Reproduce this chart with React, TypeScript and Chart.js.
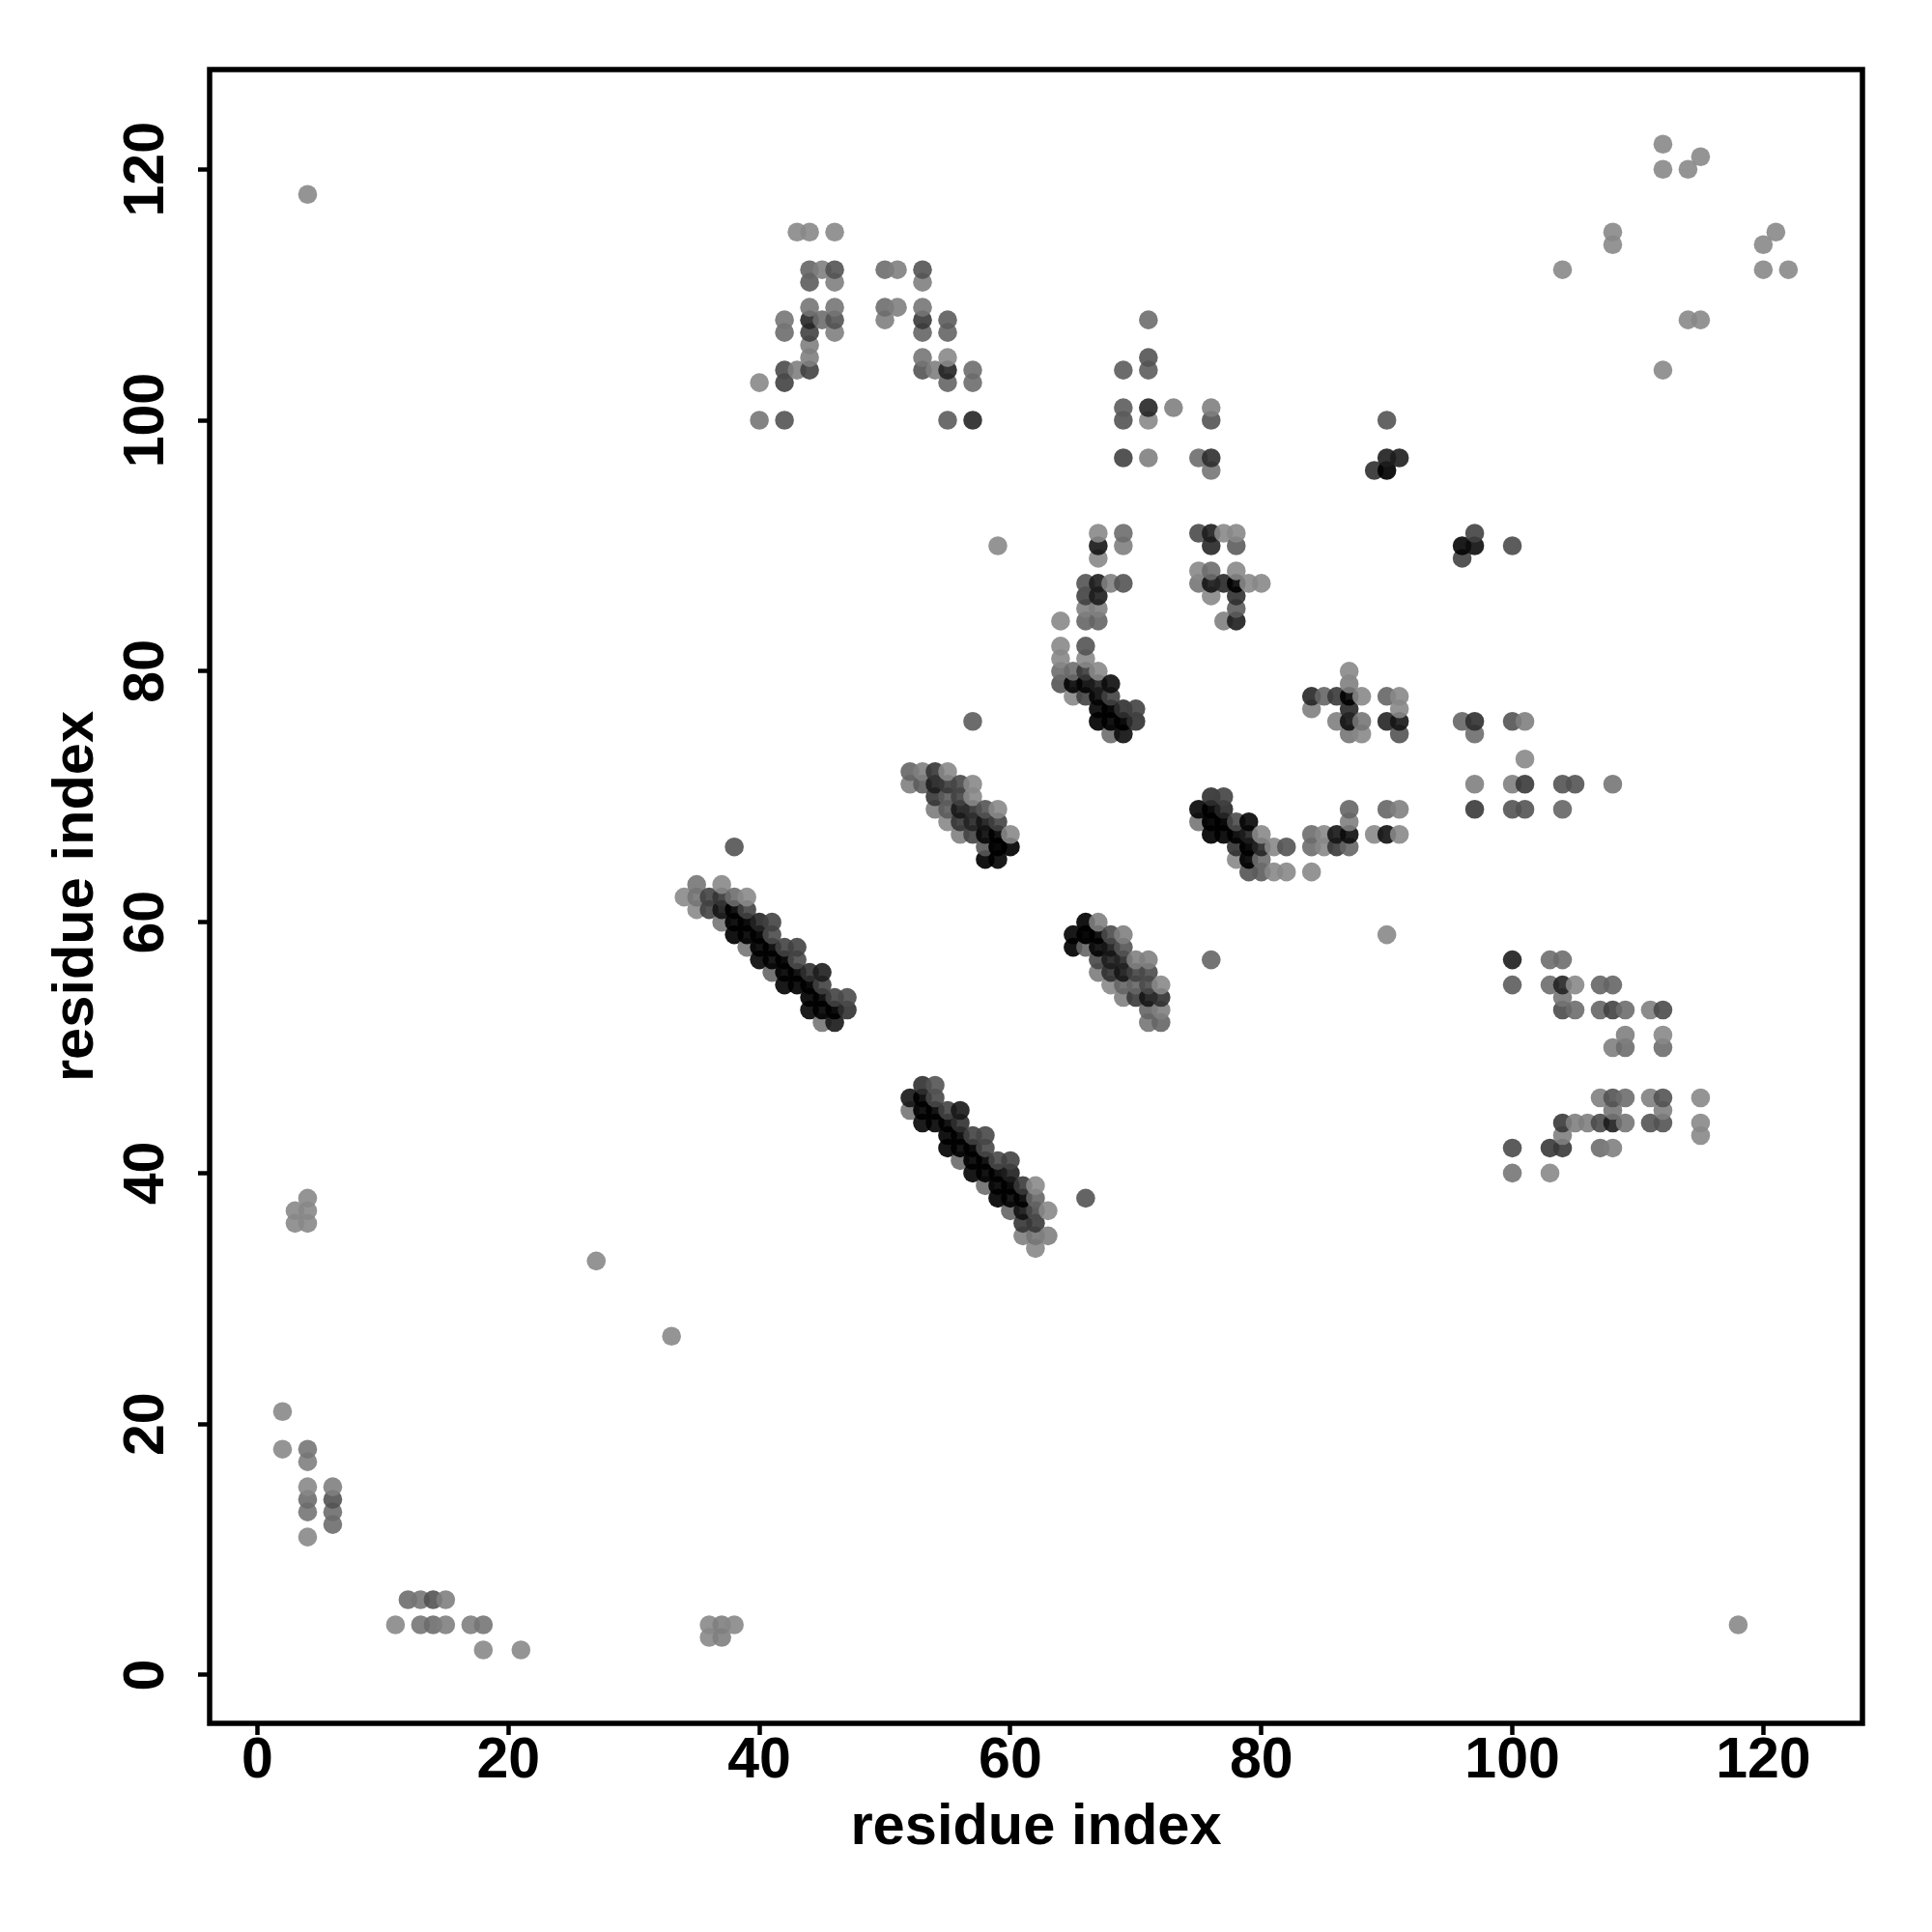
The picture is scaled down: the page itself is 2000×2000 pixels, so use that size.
import React, { useEffect, useRef } from "react";
import { Chart, registerables } from "chart.js";

Chart.register(...registerables);

type C = [number, number, number];

const tickValues = [0, 20, 40, 60, 80, 100, 120];
const axisTitle = "residue index";

// [residue i, residue j, grey level of a single dot]
const lowerLeft: C[] = [
  [2,21,0x90],[2,18,0x90],[3,37,0x90],[3,36,0x90],[4,118,0x90],[4,38,0x90],[4,37,0x90],[4,36,0x90],
  [4,18,0x80],[4,17,0x88],[4,15,0x90],[4,14,0x78],[4,13,0x80],[4,11,0x90],
  [6,15,0x88],[6,14,0x60],[6,13,0x78],[6,12,0x78],
  [11,4,0x90],[12,6,0x78],[13,6,0x80],[13,4,0x80],[14,6,0x60],[14,4,0x78],[15,6,0x88],[15,4,0x88],
  [17,4,0x88],[18,4,0x80],[18,2,0x90],[21,2,0x90],[27,33,0x90],[33,27,0x90],
  [36,4,0x90],[36,3,0x90],[37,4,0x88],[37,3,0x88],[38,4,0x90],[118,4,0x90],
];
const helixA: C[] = [
  [34,62,0x93],[35,63,0x80],[35,62,0x80],[35,61,0x93],[36,62,0x50],[36,61,0x50],
  [37,63,0x90],[37,62,0x45],[37,61,0x28],[37,60,0x80],
  [38,66,0x60],[38,62,0x78],[38,61,0x10],[38,60,0x10],[38,59,0x10],
  [39,62,0x93],[39,61,0x50],[39,60,0x08],[39,59,0x10],[39,58,0x80],
  [40,60,0x35],[40,59,0x08],[40,58,0x10],[40,57,0x18],
  [41,60,0x50],[41,59,0x58],[41,58,0x10],[41,57,0x15],[41,56,0x70],
  [42,58,0x50],[42,57,0x08],[42,56,0x10],[42,55,0x15],
  [43,58,0x50],[43,57,0x58],[43,56,0x10],[43,55,0x10],
  [44,56,0x40],[44,55,0x08],[44,54,0x10],[44,53,0x18],
  [45,56,0x30],[45,55,0x50],[45,54,0x10],[45,53,0x12],[45,52,0x80],
  [46,54,0x50],[46,53,0x08],[46,52,0x2a],[47,54,0x58],[47,53,0x40],
];
const helixB: C[] = [
  [52,46,0x28],[52,45,0x80],[53,47,0x40],[53,46,0x10],[53,45,0x10],[53,44,0x18],
  [54,47,0x60],[54,46,0x55],[54,45,0x10],[54,44,0x15],
  [55,45,0x50],[55,44,0x10],[55,43,0x10],[55,42,0x12],
  [56,45,0x2a],[56,44,0x40],[56,43,0x10],[56,42,0x12],[56,41,0x75],
  [57,43,0x50],[57,42,0x08],[57,41,0x10],[57,40,0x15],
  [58,43,0x55],[58,42,0x55],[58,41,0x10],[58,40,0x10],[58,39,0x78],
  [59,41,0x55],[59,40,0x10],[59,39,0x10],[59,38,0x10],
  [60,41,0x50],[60,40,0x30],[60,39,0x08],[60,38,0x15],[60,37,0x70],
  [61,39,0x48],[61,38,0x10],[61,37,0x25],[61,36,0x45],[61,35,0x88],
  [62,39,0x93],[62,38,0x70],[62,37,0x58],[62,36,0x48],[62,35,0x80],[62,34,0x90],
  [63,37,0x90],[63,35,0x88],[66,38,0x60],
];
const strandC: C[] = [
  [52,72,0x70],[52,71,0x88],[53,72,0x88],[53,71,0x68],
  [54,72,0x45],[54,71,0x30],[54,70,0x45],[54,69,0x85],
  [55,72,0x90],[55,71,0x48],[55,70,0x68],[55,69,0x68],[55,68,0x90],
  [56,71,0x55],[56,70,0x50],[56,69,0x2a],[56,68,0x45],[56,67,0x88],
  [57,76,0x68],[57,71,0x90],[57,70,0x90],[57,69,0x40],[57,68,0x35],[57,67,0x50],
  [58,69,0x60],[58,68,0x28],[58,67,0x1a],[58,66,0x65],[58,65,0x10],
  [59,90,0x90],[59,69,0x90],[59,68,0x50],[59,67,0x10],[59,66,0x05],[59,65,0x15],
  [60,67,0x90],[60,66,0x10],
];
const strandD: C[] = [
  [64,84,0x90],[64,82,0x90],[64,81,0x90],[64,80,0x78],[64,79,0x60],
  [65,80,0x78],[65,79,0x18],[65,78,0x90],
  [66,87,0x60],[66,86,0x50],[66,85,0x88],[66,84,0x70],[66,82,0x60],[66,81,0x90],[66,80,0x48],[66,79,0x18],[66,78,0x50],
  [67,91,0x90],[67,90,0x28],[67,89,0x90],[67,87,0x30],[67,86,0x30],[67,85,0x88],[67,84,0x70],
  [67,80,0x90],[67,79,0x30],[67,78,0x18],[67,77,0x15],[67,76,0x10],
  [68,87,0x88],[68,79,0x20],[68,78,0x50],[68,77,0x05],[68,76,0x10],[68,75,0x78],
  [69,91,0x78],[69,90,0x88],[69,87,0x60],[69,77,0x40],[69,76,0x08],[69,75,0x20],
  [70,77,0x50],[70,76,0x40],
];
const strandE: C[] = [
  [65,59,0x15],[65,58,0x10],[66,60,0x10],[66,59,0x05],[66,58,0x70],
  [67,60,0x88],[67,59,0x10],[67,58,0x18],[67,57,0x55],[67,56,0x85],
  [68,59,0x58],[68,58,0x28],[68,57,0x30],[68,56,0x40],[68,55,0x90],
  [69,59,0x88],[69,58,0x60],[69,57,0x35],[69,56,0x28],[69,55,0x70],[69,54,0x88],
  [70,57,0x88],[70,56,0x50],[70,55,0x70],[70,54,0x48],
  [71,57,0x88],[71,56,0x58],[71,55,0x58],[71,54,0x28],[71,53,0x70],[71,52,0x80],
  [72,55,0x90],[72,54,0x40],[72,53,0x88],[72,52,0x70],[76,57,0x70],
];
const clusterF: C[] = [
  [75,91,0x58],[75,88,0x90],[75,87,0x80],
  [76,91,0x30],[76,90,0x38],[76,88,0x78],[76,87,0x28],[76,86,0x90],
  [77,91,0x90],[77,87,0x38],[77,84,0x88],
  [78,91,0x90],[78,90,0x68],[78,88,0x90],[78,87,0x15],[78,86,0x40],[78,85,0x68],[78,84,0x30],
  [79,87,0x90],[80,87,0x90],[96,90,0x18],[96,89,0x50],[97,91,0x50],[97,90,0x20],[100,90,0x58],
];
const clusterG: C[] = [
  [84,78,0x38],[84,77,0x88],[85,78,0x70],[86,78,0x48],[86,76,0x88],
  [87,80,0x90],[87,79,0x88],[87,78,0x15],[87,77,0x38],[87,76,0x25],[87,75,0x80],
  [88,78,0x90],[88,76,0x80],[88,75,0x90],
  [90,78,0x70],[90,76,0x35],[91,78,0x90],[91,77,0x90],[91,76,0x28],[91,75,0x60],
];
const clusterH: C[] = [
  [75,69,0x18],[75,68,0x80],[76,70,0x40],[76,69,0x08],[76,68,0x08],[76,67,0x10],
  [77,70,0x50],[77,69,0x38],[77,68,0x05],[77,67,0x10],
  [78,68,0x58],[78,67,0x10],[78,66,0x40],[78,65,0x90],
  [79,68,0x18],[79,67,0x30],[79,66,0x08],[79,65,0x10],[79,64,0x60],
  [80,67,0x90],[80,66,0x38],[80,65,0x78],[80,64,0x68],
  [81,66,0x90],[81,64,0x90],[82,66,0x60],[82,64,0x90],
  [84,67,0x78],[84,66,0x78],[84,64,0x90],[85,67,0x90],[85,66,0x90],
  [86,67,0x28],[86,66,0x48],[87,69,0x70],[87,68,0x88],[87,67,0x20],[87,66,0x70],
  [89,67,0x90],[90,69,0x70],[90,67,0x25],[91,69,0x88],[91,67,0x90],
];
const clusterTop: C[] = [
  [40,103,0x90],[40,100,0x80],
  [42,108,0x80],[42,107,0x78],[42,104,0x58],[42,103,0x50],[42,100,0x60],
  [43,115,0x90],[43,104,0x88],
  [44,115,0x90],[44,112,0x70],[44,111,0x68],[44,109,0x80],[44,108,0x38],[44,107,0x50],[44,106,0x88],[44,105,0x88],[44,104,0x50],
  [45,112,0x88],[45,108,0x78],
  [46,115,0x90],[46,112,0x60],[46,111,0x88],[46,109,0x80],[46,108,0x60],[46,107,0x88],
  [50,112,0x78],[50,109,0x78],[50,108,0x88],[51,112,0x88],[51,109,0x88],
  [53,112,0x60],[53,111,0x88],[53,109,0x80],[53,108,0x48],[53,107,0x70],[53,105,0x80],[53,104,0x60],
  [54,104,0x88],
  [55,108,0x68],[55,107,0x70],[55,105,0x90],[55,104,0x35],[55,103,0x70],[55,100,0x68],
  [57,104,0x78],[57,103,0x78],[57,100,0x38],
];
const clusterMid: C[] = [
  [69,104,0x68],[69,101,0x68],[69,100,0x60],[69,97,0x50],
  [71,108,0x78],[71,105,0x60],[71,104,0x68],[71,101,0x38],[71,100,0x90],[71,97,0x88],
  [73,101,0x88],[75,97,0x78],[76,101,0x88],[76,100,0x60],[76,97,0x40],[76,96,0x80],
  [89,96,0x40],[90,100,0x60],[90,97,0x30],[90,96,0x10],[91,97,0x30],
];
const clusterRight: C[] = [
  [96,76,0x70],[97,76,0x40],[97,75,0x78],[97,71,0x88],[97,69,0x48],
  [100,76,0x60],[100,71,0x88],[100,69,0x60],[101,76,0x88],[101,73,0x90],[101,71,0x48],[101,69,0x60],
  [104,71,0x60],[104,69,0x70],[105,71,0x60],[108,71,0x80],
  [90,59,0x90],
  [100,57,0x30],[100,55,0x68],[100,42,0x58],[100,40,0x80],
  [103,57,0x78],[103,55,0x78],[103,42,0x48],[103,40,0x90],
  [104,57,0x78],[104,55,0x35],[104,54,0x80],[104,53,0x58],[104,44,0x48],[104,43,0x88],[104,42,0x48],
  [105,55,0x90],[105,53,0x78],[105,44,0x88],[106,44,0x88],
  [107,55,0x70],[107,53,0x70],[107,46,0x88],[107,44,0x58],[107,42,0x78],
  [108,55,0x70],[108,53,0x50],[108,50,0x88],[108,46,0x60],[108,45,0x80],[108,44,0x30],[108,42,0x88],
  [109,53,0x78],[109,51,0x88],[109,50,0x78],[109,46,0x78],[109,44,0x80],
  [111,53,0x88],[111,46,0x88],[111,44,0x60],
  [112,53,0x58],[112,51,0x90],[112,50,0x78],[112,46,0x60],[112,45,0x88],[112,44,0x60],
  [115,46,0x90],[115,44,0x90],[115,43,0x90],
];
const clusterCorner: C[] = [
  [104,112,0x90],[108,115,0x90],[108,114,0x90],[112,122,0x90],[112,120,0x90],[112,104,0x90],
  [114,120,0x90],[115,121,0x90],[114,108,0x90],[115,108,0x90],
  [120,114,0x90],[121,115,0x90],[120,112,0x90],[122,112,0x90],
];

const contacts: C[] = [
  ...lowerLeft, ...helixA, ...helixB, ...strandC, ...strandD, ...strandE,
  ...clusterF, ...clusterG, ...clusterH, ...clusterTop, ...clusterMid, ...clusterRight, ...clusterCorner,
].sort((p, q) => p[0] - q[0] || p[1] - q[1]);

function dotColour(level: number): string {
  let alpha = 0.9;
  const shown = Math.min(0x95, level + 4);
  let g = (shown - 255 * (1 - alpha)) / alpha;
  if (g < 0) {
    g = 0;
    alpha = 1 - shown / 255;
  }
  const v = Math.round(g);
  return `rgba(${v},${v},${v},${alpha.toFixed(3)})`;
}

const FONT = "'Liberation Sans', Arial, sans-serif";

const boxPlugin = {
  id: "box",
  afterDatasetsDraw(chart: any) {
    const { ctx, chartArea: a } = chart;
    ctx.save();
    ctx.strokeStyle = "#000";
    ctx.lineWidth = 5.5;
    ctx.strokeRect(a.left, a.top, a.right - a.left, a.bottom - a.top);
    ctx.restore();
  },
};

export default function App() {
  const ref = useRef<HTMLCanvasElement>(null);
  useEffect(() => {
    const tickOnly = (v: any) => tickValues.includes(Number(v)) ? String(v) : "";
    const chart = new Chart(ref.current as HTMLCanvasElement, {
      type: "scatter",
      data: {
        datasets: [
          {
            data: contacts.map((c) => ({ x: c[0], y: c[1] })),
            pointRadius: 9.8,
            pointHoverRadius: 9.8,
            pointBorderWidth: 0,
            pointBackgroundColor: contacts.map((c) => dotColour(c[2])),
          },
        ],
      },
      plugins: [boxPlugin],
      options: {
        responsive: false,
        animation: false,
        devicePixelRatio: 1,
        layout: { padding: { top: 72, right: 72, left: 0, bottom: 0 } },
        plugins: { legend: { display: false }, tooltip: { enabled: false } },
        scales: {
          x: {
            type: "linear",
            min: -3.81,
            max: 127.9,
            afterFit: (s: any) => {
              s.height = 216;
              s.paddingLeft = s.paddingRight = s.paddingTop = s.paddingBottom = 0;
            },
            grid: { drawOnChartArea: false, drawTicks: true, tickLength: 12, tickWidth: 4.5, tickColor: "#000" },
            border: { display: false },
            ticks: {
              stepSize: 20,
              includeBounds: false,
              maxRotation: 0,
              autoSkip: false,
              padding: -8,
              color: "#000",
              font: { family: FONT, size: 59, weight: "bold" },
              callback: tickOnly,
            },
            title: {
              display: true,
              text: axisTitle,
              color: "#000",
              padding: 72,
              font: { family: FONT, size: 59.6, weight: "bold" },
            },
          },
          y: {
            type: "linear",
            min: -3.85,
            max: 127.95,
            afterBuildTicks: (s: any) => {
              s._getYAxisLabelAlignment = () => ({ textAlign: "center", x: 153 });
            },
            afterFit: (s: any) => {
              s.width = 217;
              s.paddingLeft = s.paddingRight = s.paddingTop = s.paddingBottom = 0;
            },
            grid: { drawOnChartArea: false, drawTicks: true, tickLength: 12, tickWidth: 4.5, tickColor: "#000" },
            border: { display: false },
            ticks: {
              stepSize: 20,
              includeBounds: false,
              minRotation: 90,
              maxRotation: 90,
              autoSkip: false,
              color: "#000",
              font: { family: FONT, size: 59, weight: "bold" },
              callback: tickOnly,
            },
            title: {
              display: true,
              text: axisTitle,
              color: "#000",
              padding: 44,
              font: { family: FONT, size: 59.6, weight: "bold" },
            },
          },
        },
      } as any,
    });
    return () => chart.destroy();
  }, []);
  return (
    <div style={{ position: "absolute", left: 0, top: 0, width: 2000, height: 2000, background: "#fff" }}>
      <canvas ref={ref} width={2000} height={2000} style={{ display: "block" }} />
    </div>
  );
}
